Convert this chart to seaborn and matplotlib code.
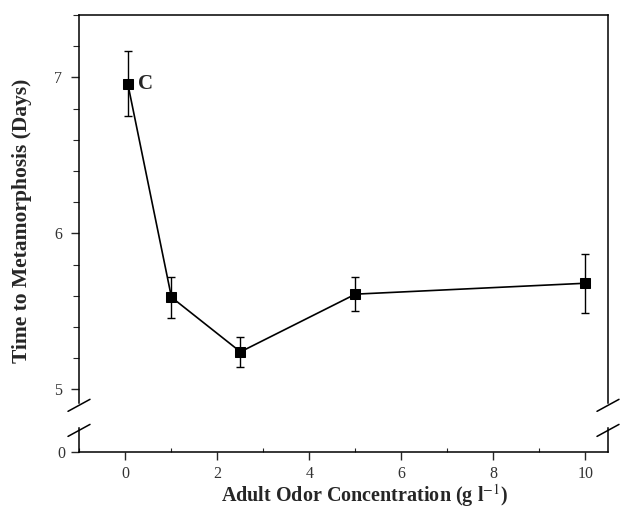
import matplotlib
matplotlib.use("Agg")
import matplotlib.pyplot as plt
from matplotlib.ticker import MultipleLocator
import pandas as pd
import seaborn as sns

# values
concentration = [0.05, 1.0, 2.5, 5.0, 10.0]
days = [6.96, 5.59, 5.24, 5.61, 5.68]
sem = [0.21, 0.13, 0.095, 0.11, 0.19]

df = pd.DataFrame({"conc": concentration, "days": days, "sem": sem})

sns.set_style("ticks")
plt.rcParams["font.family"] = ["Liberation Serif", "DejaVu Serif"]
plt.rcParams["mathtext.fontset"] = "stix"

fig = plt.figure(figsize=(6.22, 5.09), dpi=100)
W, H = 622, 509
left, right = 79 / W, 608 / W
ax = fig.add_axes([left, 1 - 403 / H, right - left, (403 - 15) / H])
ax0 = fig.add_axes([left, 1 - 452 / H, right - left, (452 - 428) / H])

# upper panel: the data
ax.errorbar(df["conc"], df["days"], yerr=df["sem"], fmt="none",
            ecolor="black", elinewidth=1.0, capsize=3, capthick=1.0, zorder=2)
sns.lineplot(data=df, x="conc", y="days", ax=ax, color="black", linewidth=1.2,
             marker="s", markersize=7, markeredgecolor="black", zorder=3)
ax.text(df["conc"][0] + 0.22, df["days"][0], "C", fontsize=15, fontweight="bold",
        va="center", ha="left")

ax.set_xlim(-1.01, 10.49)
ax.set_ylim(4.912, 7.40)
ax.yaxis.set_major_locator(MultipleLocator(1))
ax.yaxis.set_minor_locator(MultipleLocator(0.2))
ax.set_xticks([])
ax.set_xlabel("")
ax.set_ylabel("Time to Metamorphosis (Days)", fontsize=15.5, fontweight="bold")
ax.yaxis.set_label_coords(-0.089, 0.47)
ax.spines["bottom"].set_visible(False)
ax.tick_params(axis="y", which="major", direction="out", length=6, width=1,
               labelsize=11.5, labelcolor="#333333", pad=6)
ax.tick_params(axis="y", which="minor", direction="out", length=4, width=0.8)

# lower panel: zero stub
ax0.set_xlim(-1.01, 10.49)
ax0.set_ylim(0, 1)
ax0.set_yticks([0])
ax0.set_xticks([0, 2, 4, 6, 8, 10])
ax0.xaxis.set_minor_locator(MultipleLocator(1))
ax0.spines["top"].set_visible(False)
ax0.tick_params(axis="both", which="major", direction="out", length=6, width=1,
                labelsize=11.5, labelcolor="#333333", pad=4)
ax0.tick_params(axis="x", which="minor", direction="in", length=3, width=0.8)
ax0.set_xlabel("Adult Odor Concentration (g l$^{-1}$)", fontsize=14.5,
               fontweight="bold", va="center")
ax0.xaxis.set_label_coords(0.54, -(496 - 452) / 24)

for a in (ax, ax0):
    for s in a.spines.values():
        s.set_linewidth(1.1)
        s.set_color("black")

# axis break marks
kw = dict(color="black", linewidth=1.1, clip_on=False)
dx = 11 / (W * (right - left))
for x0 in (0, 1):
    dy = 6 / 388
    ax.plot([x0 - dx, x0 + dx], [-0.006 - dy, -0.006 + dy], transform=ax.transAxes, **kw)
    dy = 6 / 24
    ax0.plot([x0 - dx, x0 + dx], [0.9 - dy, 0.9 + dy], transform=ax0.transAxes, **kw)

fig.savefig("out.png", dpi=100)
